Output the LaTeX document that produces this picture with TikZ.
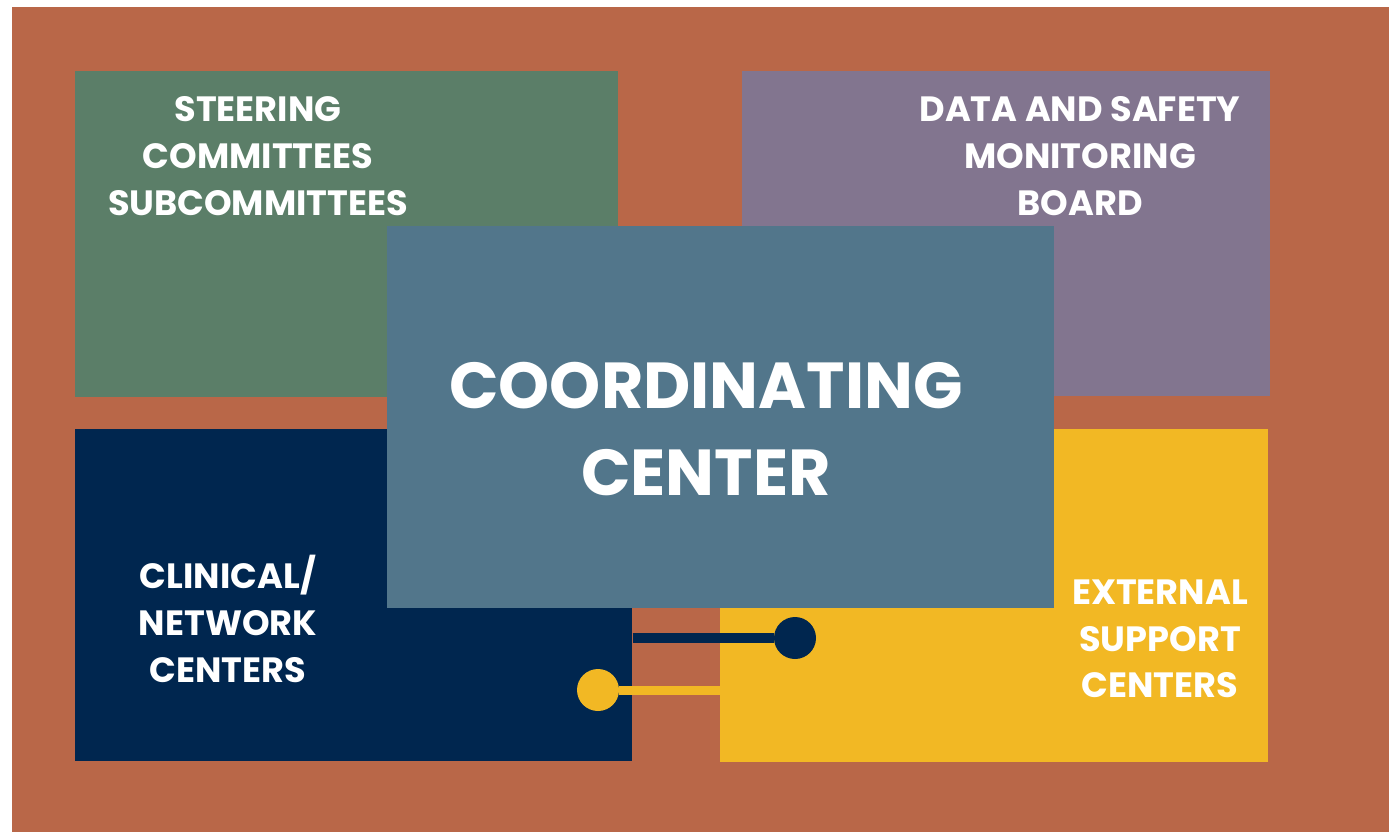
\documentclass[tikz,border=0pt]{standalone}
\usepackage{fontspec}
\setmainfont{Poppins}
\usetikzlibrary{positioning}
\definecolor{rust}{HTML}{B96748}
\definecolor{sage}{HTML}{5B7E68}
\definecolor{mauve}{HTML}{82758F}
\definecolor{navy}{HTML}{00264F}
\definecolor{gold}{HTML}{F2B824}
\definecolor{slate}{HTML}{52768B}
\tikzset{
    panel/.style={draw=none, inner sep=0pt, anchor=north west}, % coloured blocks
    paneltext/.style={text=white, align=center, inner sep=0pt,
        font=\bfseries\fontsize{20}{26.6}\selectfont},
    bigtext/.style={text=white, align=center, inner sep=0pt,
        font=\bfseries\fontsize{37}{50}\selectfont},
    dot/.style={circle, inner sep=0pt, minimum size=0.84cm},
}

\begin{document}
\begin{tikzpicture}[x=0.02cm, y=-0.02cm]
    \useasboundingbox (0,0) rectangle (1389,832);
    \fill[rust] (12,7) rectangle (1389,832);

    % Blocks
    \node[panel, fill=sage, minimum width=10.86cm, minimum height=6.52cm] (steer) at (75,71) {};
    \node[panel, fill=mauve, minimum width=10.56cm, minimum height=6.5cm] (dsmb) at (742,71) {};
    \node[panel, fill=navy, minimum width=11.14cm, minimum height=6.64cm] (clinic) at (75,429) {};
    \node[panel, fill=gold, minimum width=10.96cm, minimum height=6.66cm] (extern) at (720,429) {};

    % Links
    \node[dot, fill=navy] (navydot) at (795,638) {};
    \node[dot, fill=gold] (golddot) at (598,690) {};
    \draw[navy, line width=0.2cm] (clinic.east |- navydot) -- (navydot);
    \draw[gold, line width=0.18cm] (golddot) -- (extern.west |- golddot);

    \node[panel, fill=slate, minimum width=13.34cm, minimum height=7.64cm] (coord) at (387,226) {};

    % Texts
    \node[paneltext] (steertext) at (258,156) {STEERING\\COMMITTEES\\SUBCOMMITTEES};
    \node[paneltext] (dsmbtext) at (1080,156) {DATA AND SAFETY\\MONITORING\\BOARD};
    \node[paneltext] (clinictext) at (228,619) {CLINICAL/\\NETWORK\\CENTERS};
    \node[paneltext] (externtext) at (1160,639) {EXTERNAL\\SUPPORT\\CENTERS};
    \node[bigtext] (coordtext) at (706,429) {COORDINATING\\CENTER};
\end{tikzpicture}
\end{document}
